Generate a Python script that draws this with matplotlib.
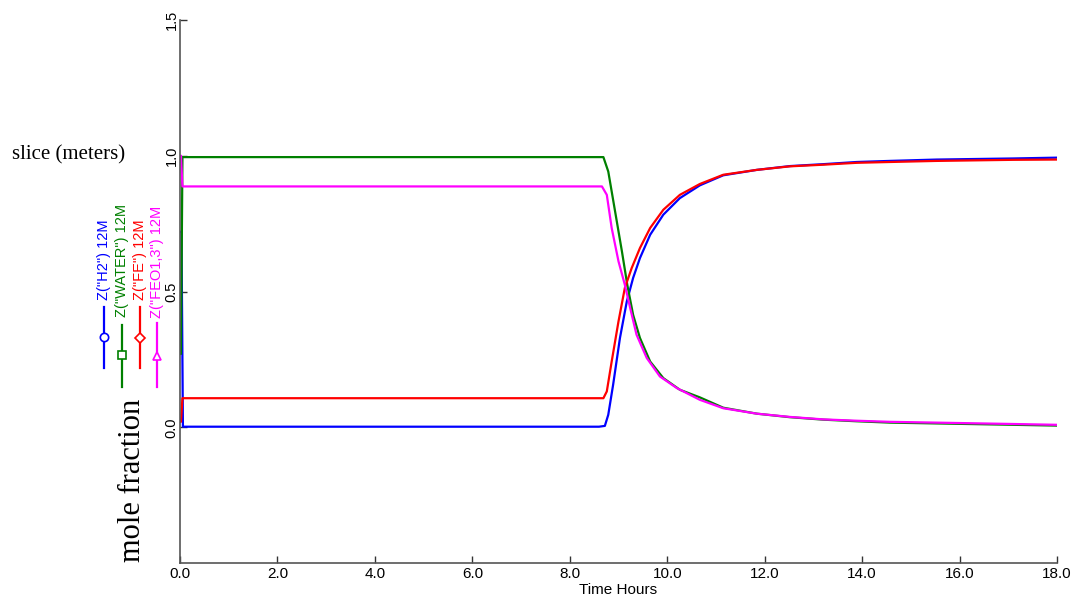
import matplotlib
matplotlib.use("Agg")
import matplotlib.pyplot as plt
from matplotlib.lines import Line2D

# ---- data ----
t_h2 = [0.0, 0.03, 0.06, 8.6, 8.72, 8.79, 8.89, 9.03, 9.17, 9.30, 9.44, 9.65, 9.92,
        10.26, 10.67, 11.15, 11.84, 12.52, 13.2, 13.89, 14.57, 15.53, 17.1, 18.0]
h2 = [0.72, 0.72, 0.002, 0.002, 0.005, 0.046, 0.157, 0.329, 0.463, 0.55, 0.623, 0.709, 0.783,
      0.844, 0.891, 0.928, 0.948, 0.962, 0.969, 0.977, 0.981, 0.986, 0.99, 0.993]

t_water = [0.0, 0.02, 0.05, 8.69, 8.79, 8.93, 9.07, 9.18, 9.30, 9.44, 9.65, 9.92,
           10.26, 10.67, 11.15, 11.84, 12.52, 13.2, 13.89, 14.57, 15.53, 17.1, 18.0]
water = [0.27, 0.27, 0.995, 0.995, 0.942, 0.795, 0.648, 0.525, 0.414, 0.329, 0.242, 0.181,
         0.138, 0.11, 0.072, 0.05, 0.037, 0.028, 0.022, 0.017, 0.014, 0.009, 0.006]

t_fe = [0.0, 0.02, 0.05, 8.69, 8.76, 8.86, 9.0, 9.13, 9.27, 9.44, 9.65, 9.92,
        10.26, 10.67, 11.15, 11.84, 12.52, 13.2, 13.89, 14.57, 15.53, 17.1, 18.0]
fe = [0.02, 0.02, 0.107, 0.107, 0.132, 0.242, 0.39, 0.513, 0.586, 0.66, 0.734, 0.801,
      0.856, 0.896, 0.93, 0.948, 0.961, 0.967, 0.974, 0.977, 0.981, 0.985, 0.986]

t_feo = [0.0, 0.02, 0.05, 8.66, 8.76, 8.86, 9.0, 9.13, 9.24, 9.37, 9.58, 9.85,
         10.2, 10.67, 11.15, 11.84, 12.52, 13.2, 13.89, 14.57, 15.53, 17.1, 18.0]
feo = [1.0, 1.0, 0.887, 0.887, 0.856, 0.734, 0.611, 0.525, 0.439, 0.341, 0.255, 0.187,
       0.144, 0.101, 0.07, 0.05, 0.038, 0.029, 0.024, 0.02, 0.017, 0.012, 0.009]

series_labels = ['Z("H2") 12M', 'Z("WATER") 12M', 'Z("FE") 12M', 'Z("FEO1,3") 12M']
colors = ['#0000FF', '#008000', '#FF0000', '#FF00FF']
markers = ['o', 's', 'D', '^']

x_ticks = [0, 2, 4, 6, 8, 10, 12, 14, 16, 18]
y_ticks = [0.0, 0.5, 1.0, 1.5]

tick_font = ['Liberation Sans Narrow', 'Liberation Sans', 'DejaVu Sans']
sans_font = ['Liberation Sans', 'DejaVu Sans']
serif_font = ['Liberation Serif', 'DejaVu Serif']

W, H = 1080, 605
fig = plt.figure(figsize=(W / 100, H / 100), dpi=100)
ax = fig.add_axes([180 / W, 1 - 563 / H, (1057 - 180) / W, (563 - 20) / H])

data = [(t_h2, h2), (t_water, water), (t_fe, fe), (t_feo, feo)]
for (tx, ty), c in zip(data, colors):
    ax.plot(tx, ty, color=c, lw=1.6, solid_joinstyle='round')

ax.set_xlim(0, 18)
ax.set_ylim(-0.5, 1.5)
for s in ['top', 'right']:
    ax.spines[s].set_visible(False)
for s in ['left', 'bottom']:
    ax.spines[s].set_color('#555555')
    ax.spines[s].set_linewidth(1.2)

ax.set_xticks(x_ticks)
ax.set_xticklabels([f"{v:.1f}" for v in x_ticks], fontsize=11, family=tick_font)
ax.set_yticks(y_ticks)
ax.set_yticklabels([f"{v:.1f}" for v in y_ticks], fontsize=10.5, family=sans_font,
                   rotation=90, va='center')
ax.tick_params(axis='both', direction='in', length=5, color='#333333', width=1)
ax.tick_params(axis='y', pad=1)
ax.tick_params(axis='x', pad=3)
ax.set_xlabel('Time Hours', fontsize=11, family=sans_font, labelpad=1)

# labels outside axes
fig.text(12 / W, 1 - 155 / H, 'slice (meters)', fontsize=15, family=serif_font,
         ha='left', va='center')
fig.text(133 / W, 1 - 480 / H, 'mole fraction', fontsize=22, family=serif_font,
         rotation=90, ha='center', va='center')

# vertical custom legend
leg = [
    (104, 307, 368, 337, 300),
    (122, 325, 387, 355, 317),
    (140, 307, 368, 338, 300),
    (157, 323, 387, 356, 318),
]
for (x, y0, y1, ym, yt), c, m, lab in zip(leg, colors, markers, series_labels):
    fig.add_artist(Line2D([x / W, x / W], [1 - y0 / H, 1 - y1 / H], color=c, lw=1.6,
                          transform=fig.transFigure))
    fig.add_artist(Line2D([x / W], [1 - ym / H], color=c, marker=m, markersize=6 if m != 'D' else 5,
                          markerfacecolor='white', markeredgecolor=c, markeredgewidth=1.2,
                          transform=fig.transFigure))
    fig.text(x / W, 1 - yt / H, lab, color=c, fontsize=10.5, family=sans_font,
             rotation=90, ha='center', va='bottom')

fig.savefig('out.png', dpi=100, facecolor='white')
